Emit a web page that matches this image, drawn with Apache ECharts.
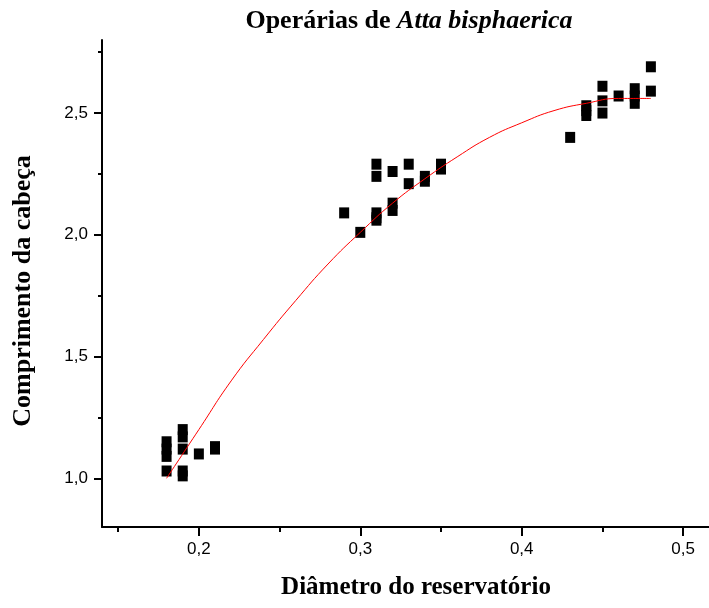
<!DOCTYPE html>
<html>
<head>
<meta charset="utf-8">
<script src="https://cdn.jsdelivr.net/npm/echarts@6/dist/echarts.min.js"></script>
<style>
  html, body { margin: 0; padding: 0; background: #fff; }
  #main { width: 709px; height: 608px; }
</style>
</head>
<body>
<div id="main"></div>
<script>
// measured points (diametro, comprimento)
const diametro = [0.18, 0.18, 0.18, 0.18, 0.19, 0.19, 0.19, 0.19, 0.19, 0.20, 0.21, 0.21,
  0.29, 0.30, 0.31, 0.31, 0.31, 0.31, 0.31, 0.32, 0.32, 0.32, 0.33, 0.33, 0.34, 0.34, 0.35, 0.35,
  0.43, 0.44, 0.44, 0.44, 0.45, 0.45, 0.45, 0.46, 0.47, 0.47, 0.47, 0.48, 0.48]
const comprimento = [1.15, 1.12, 1.09, 1.03, 1.20, 1.17, 1.12, 1.03, 1.01, 1.10, 1.13, 1.12,
  2.09, 2.01, 2.29, 2.24, 2.09, 2.07, 2.06, 2.26, 2.13, 2.10, 2.29, 2.21, 2.24, 2.22, 2.29, 2.27,
  2.40, 2.53, 2.51, 2.49, 2.61, 2.55, 2.50, 2.57, 2.60, 2.57, 2.54, 2.69, 2.59]

// red fitted curve
const fitX = [0.18, 0.20, 0.22, 0.24, 0.26, 0.28, 0.30, 0.32, 0.34, 0.36, 0.38, 0.40, 0.42, 0.44, 0.46, 0.48]
const fitY = [1.00, 1.20, 1.40, 1.57, 1.73, 1.88, 2.01, 2.13, 2.23, 2.32, 2.40, 2.46, 2.51, 2.54, 2.56, 2.56]

const xMajor = [0.2, 0.3, 0.4, 0.5]
const xMinor = [0.15, 0.25, 0.35, 0.45]
const yMajor = [1.0, 1.5, 2.0, 2.5]
const yMinor = [1.25, 1.75, 2.25, 2.75]

const fmt = v => Number(v).toFixed(1).replace('.', ',')

let chart = echarts.init(document.getElementById('main'))

const axisLineStyle = {color: '#000', width: 2}

chart.setOption({
  animation: false,
  title: {
    text: '{b|Operárias de }{i|Atta bisphaerica}',
    left: 404,
    textAlign: 'center',
    top: 3,
    textStyle: {
      rich: {
        b: {fontFamily: 'Liberation Serif', fontWeight: 'bold', fontSize: 26, color: '#000'},
        i: {fontFamily: 'Liberation Serif', fontWeight: 'bold', fontStyle: 'italic', fontSize: 26, color: '#000'}
      }
    }
  },
  grid: {left: 102, top: 40, right: 0, bottom: 81, outerBoundsMode: 'none'},
  xAxis: [
    {
      type: 'value', min: 0.14, max: 0.516,
      axisLine: {lineStyle: axisLineStyle},
      axisTick: {customValues: xMajor, length: 9, lineStyle: axisLineStyle},
      axisLabel: {customValues: xMajor, formatter: fmt, margin: 14, fontFamily: 'Liberation Sans', fontSize: 17, color: '#000'},
      splitLine: {show: false}
    },
    {
      type: 'value', min: 0.14, max: 0.516, position: 'bottom',
      axisLine: {show: false},
      axisTick: {customValues: xMinor, length: 5, lineStyle: axisLineStyle},
      axisLabel: {show: false},
      splitLine: {show: false}
    }
  ],
  yAxis: [
    {
      type: 'value', min: 0.8, max: 2.8,
      axisLine: {show: true, lineStyle: axisLineStyle},
      axisTick: {customValues: yMajor, length: 8, lineStyle: axisLineStyle},
      axisLabel: {customValues: yMajor, formatter: fmt, margin: 14, fontFamily: 'Liberation Sans', fontSize: 17, color: '#000'},
      splitLine: {show: false}
    },
    {
      type: 'value', min: 0.8, max: 2.8, position: 'left',
      axisLine: {show: false},
      axisTick: {customValues: yMinor, length: 4, lineStyle: axisLineStyle},
      axisLabel: {show: false},
      splitLine: {show: false}
    }
  ],
  graphic: [
    {
      type: 'text', x: 23, y: 291, rotation: Math.PI / 2,
      style: {text: 'Comprimento da cabeça', fontFamily: 'Liberation Serif', fontWeight: 'bold', fontSize: 26,
        fill: '#000', align: 'center', verticalAlign: 'middle'}
    },
    {
      type: 'text', x: 416, y: 588,
      style: {text: 'Diâmetro do reservatório', fontFamily: 'Liberation Serif', fontWeight: 'bold', fontSize: 25,
        fill: '#000', align: 'center', verticalAlign: 'middle'}
    }
  ],
  series: [
    {
      type: 'scatter',
      symbol: 'rect',
      symbolSize: [10, 11],
      itemStyle: {color: '#000', opacity: 1},
      data: diametro.map((d, i) => [d, comprimento[i]]),
      z: 2
    },
    {
      type: 'line',
      smooth: true,
      showSymbol: false,
      lineStyle: {color: '#ff0000', width: 1},
      data: fitX.map((d, i) => [d, fitY[i]]),
      z: 3
    }
  ]
})
</script>
</body>
</html>
